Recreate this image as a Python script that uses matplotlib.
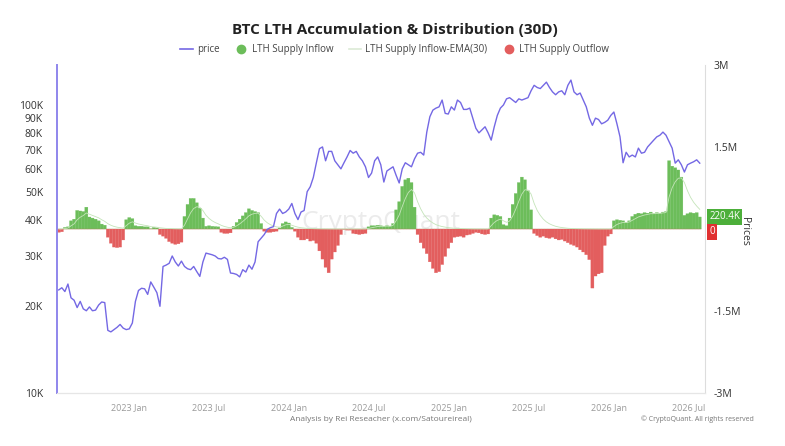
import numpy as np
import pandas as pd
import matplotlib
matplotlib.use("Agg")
import matplotlib.pyplot as plt
from matplotlib.lines import Line2D
from matplotlib.ticker import FixedLocator, NullLocator

plt.rcParams["font.family"] = ["Open Sans", "DejaVu Sans"]

# weekly samples
dates = pd.date_range("2022-07-25", periods=210, freq="7D")

price_k = [
    22.8, 23.2, 22.5, 23.9, 21.4, 21.0, 19.8, 20.8, 19.6, 19.3,
    19.9, 19.3, 19.4, 20.2, 20.7, 20.6, 16.5, 16.3, 16.6, 16.9,
    17.3, 16.8, 16.6, 16.7, 17.5, 20.8, 22.7, 23.1, 23.0, 22.0,
    24.3, 23.3, 22.3, 20.0, 27.5, 27.8, 28.2, 29.9, 28.5, 27.6,
    28.7, 27.5, 27.0, 26.8, 27.5, 26.4, 25.4, 28.5, 30.6, 30.4,
    30.2, 29.9, 29.3, 29.2, 29.6, 29.1, 26.1, 26.0, 25.8, 25.3,
    26.8, 26.3, 27.8, 26.9, 28.5, 33.5, 34.5, 35.5, 37.0, 37.5,
    37.8, 42.0, 43.5, 42.0, 42.5, 43.5, 45.5, 42.0, 40.0, 42.5,
    43.0, 50.0, 52.0, 56.0, 63.0, 70.5, 71.5, 64.0, 69.0, 69.0,
    64.0, 62.0, 60.0, 63.0, 66.0, 69.5, 68.0, 69.0, 66.0, 64.0,
    61.0, 56.0, 58.0, 64.0, 66.0, 62.0, 54.0, 59.0, 60.0, 61.0,
    57.0, 53.6, 60.0, 63.0, 62.0, 61.0, 65.0, 68.0, 68.5, 67.0,
    80.5, 91.0, 96.0, 97.5, 98.5, 104.0, 93.5, 93.0, 98.5, 96.0,
    104.0, 102.0, 96.5, 96.5, 97.5, 90.0, 83.0, 80.0, 82.0, 84.0,
    80.0, 75.5, 84.0, 92.0, 97.5, 100.0, 105.0, 106.0, 104.0, 102.0,
    105.0, 104.0, 105.0, 106.0, 112.0, 117.0, 115.0, 114.0, 117.0, 120.0,
    115.0, 111.0, 108.5, 111.0, 112.0, 108.5, 117.0, 122.0, 111.0, 108.5,
    110.0, 104.0, 98.5, 90.0, 85.0, 90.0, 89.0, 86.0, 87.0, 88.5,
    92.0, 94.5, 86.0, 77.5, 63.0, 68.5, 66.0, 67.0, 66.0, 70.8,
    68.0, 68.5, 71.5, 73.5, 75.5, 77.5, 78.5, 80.5, 78.5, 74.5,
    70.8, 62.8, 64.5, 62.0, 58.5, 62.0, 62.8, 63.5, 64.5, 62.8,
]

# net LTH supply change (K BTC), positive = inflow, negative = outflow
flow_k = [
    -60, -50, 30, 40, 150, 180, 340, 330, 320, 400,
    220, 200, 180, 150, 90, 70, -150, -260, -330, -340,
    -330, -200, 170, 210, 190, 60, 50, 50, 40, 40,
    5, 30, 20, -100, -130, -170, -230, -260, -280, -270,
    -240, 230, 450, 560, 560, 480, 380, 200, 50, 60,
    50, 45, 40, -60, -80, -80, -70, 50, 120, 180,
    240, 300, 370, 340, 320, 300, 100, -40, -60, -60,
    -50, -40, 20, 100, 130, 110, 30, -40, -150, -200,
    -200, -180, -220, -210, -260, -400, -550, -700, -800, -550,
    -420, -300, -100, -10, -20, -20, -80, -90, -100, -90,
    -80, 40, 60, 60, 70, 60, 50, 60, 50, 100,
    350, 500, 780, 900, 930, 850, 400, -100, -250, -350,
    -450, -600, -720, -800, -780, -650, -500, -350, -250, -150,
    -140, -130, -150, -110, -100, -80, -60, -70, -90, -100,
    -90, 200, 260, 250, 230, 80, 60, 200, 450, 650,
    850, 950, 900, 700, 350, -80, -120, -150, -130, -160,
    -170, -150, -180, -200, -190, -220, -250, -280, -300, -330,
    -380, -420, -470, -560, -1080, -860, -820, -800, -300, -130,
    -90, 150, 170, 160, 150, 120, 150, 230, 270, 290,
    280, 300, 290, 310, 280, 300, 290, 310, 320, 1250,
    1150, 1120, 1080, 950, 250, 280, 300, 290, 300, 220.4,
]

ema_k = [
    0, 0, 9, 18, 58, 94, 168, 216, 247, 293,
    271, 250, 229, 205, 170, 140, 98, 69, 48, 34,
    24, 16, 62, 107, 132, 110, 92, 80, 68, 60,
    43, 39, 33, 23, 16, 11, 8, 6, 4, 3,
    2, 70, 184, 297, 376, 407, 399, 339, 252, 194,
    151, 119, 95, 67, 47, 33, 23, 31, 58, 94,
    138, 187, 242, 271, 286, 290, 233, 163, 114, 80,
    56, 39, 33, 53, 76, 86, 69, 49, 34, 24,
    17, 12, 8, 6, 4, 3, 2, 1, 1, 1,
    0, 0, 0, 0, 0, 0, 0, 0, 0, 0,
    0, 12, 26, 36, 46, 50, 50, 53, 52, 66,
    151, 256, 413, 559, 670, 724, 660, 500, 370, 270,
    200, 150, 110, 80, 60, 45, 34, 25, 19, 14,
    10, 8, 6, 4, 3, 2, 2, 1, 1, 1,
    0, 60, 120, 159, 180, 150, 123, 146, 237, 361,
    508, 640, 718, 713, 640, 470, 340, 250, 180, 130,
    95, 70, 50, 37, 27, 20, 14, 10, 7, 5,
    4, 3, 2, 1, 1, 1, 0, 0, 0, 0,
    0, 45, 83, 106, 119, 119, 128, 159, 192, 221,
    239, 257, 267, 280, 280, 286, 287, 294, 302, 586,
    755, 864, 929, 935, 850, 700, 580, 490, 420, 360,
]

price_ticks = [10, 20, 30, 40, 50, 60, 70, 80, 90, 100]
flow_ticks = [-3, -1.5, 1.5, 3]
flow_tick_labels = ["-3M", "-1.5M", "1.5M", "3M"]
month_ticks = ["2023-01-01", "2023-07-01", "2024-01-01", "2024-07-01",
               "2025-01-01", "2025-07-01", "2026-01-01", "2026-07-01"]
month_labels = ["2023 Jan", "2023 Jul", "2024 Jan", "2024 Jul",
                "2025 Jan", "2025 Jul", "2026 Jan", "2026 Jul"]

PURPLE = "#7468e4"
GREEN = "#6cbd5a"
RED = "#e35e5e"
EMA_COLOR = "#c4e4b9"

price = np.array(price_k) * 1e3
flow = np.array(flow_k) * 1e3
ema = np.array(ema_k) * 1e3
inflow = np.where(flow > 0, flow, 0)
outflow = np.where(flow < 0, flow, 0)


def main():
    fig = plt.figure(figsize=(7.85, 4.46), dpi=100)
    ax = fig.add_axes([0.0726, 0.1188, 0.8255, 0.7354])
    ax2 = ax.twinx()

    # flow bars on the right axis, contiguous like a filled histogram
    for vals, col in ((inflow, GREEN), (outflow, RED)):
        bars = ax2.bar(dates, vals, width=7, color=col, edgecolor=col,
                       linewidth=0.2, zorder=2)
        for b in bars:
            b.set_snap(False)
    ax2.plot(dates, ema, color=EMA_COLOR, linewidth=0.6, zorder=3)
    ax2.set_ylim(-3e6, 3e6)
    ax2.yaxis.set_major_locator(FixedLocator([v * 1e6 for v in flow_ticks]))
    ax2.set_yticklabels(flow_tick_labels)
    ax2.tick_params(axis="y", length=0, labelsize=7.5, labelcolor="#333333", pad=6)

    # watermark
    ax2.text(0.5, 0.52, "CryptoQuant", transform=ax2.transAxes, ha="center",
             va="center", fontsize=19, color="#ebebeb", zorder=1)

    # price line on the log left axis, drawn above the bars
    ax.set_zorder(ax2.get_zorder() + 1)
    ax.patch.set_visible(False)
    ax.plot(dates, price, color=PURPLE, linewidth=1.0)
    ax.set_yscale("log")
    ax.set_ylim(10000, 137600)
    ax.yaxis.set_major_locator(FixedLocator([v * 1e3 for v in price_ticks]))
    ax.yaxis.set_minor_locator(NullLocator())
    ax.set_yticklabels([f"{v}K" for v in price_ticks])
    ax.tick_params(axis="y", length=0, labelsize=7.5, labelcolor="#333333", pad=10)

    ax.set_xlim(pd.Timestamp("2022-07-21"), pd.Timestamp("2026-08-08"))
    ax.set_xticks([pd.Timestamp(d) for d in month_ticks])
    ax.set_xticklabels(month_labels)
    ax.tick_params(axis="x", length=0, labelsize=6.5, labelcolor="#9a9a9a", pad=7)

    for a in (ax, ax2):
        a.spines["top"].set_visible(False)
        a.spines["bottom"].set_color("#e6e6e6")
    ax.spines["left"].set_color("#8f86ec")
    ax.spines["left"].set_linewidth(1.4)
    ax.spines["right"].set_visible(False)
    ax2.spines["left"].set_visible(False)
    ax2.spines["right"].set_color("#dddddd")

    # last value tags on the right axis
    ytr = ax2.get_yaxis_transform()
    ax2.annotate("220.4K", xy=(1.0, inflow[-1]), xycoords=ytr, xytext=(3, 0),
                 textcoords="offset points", ha="left", va="center",
                 fontsize=7, color="white",
                 bbox=dict(boxstyle="square,pad=0.25", fc="#4caf3a", ec="none"))
    ax2.annotate("0", xy=(1.0, outflow[-1]), xycoords=ytr, xytext=(3, -2),
                 textcoords="offset points", ha="left", va="center",
                 fontsize=7, color="white",
                 bbox=dict(boxstyle="square,pad=0.25", fc="#e03030", ec="none"))
    fig.text(0.949, 0.482, "Prices", rotation=270, ha="center", va="center",
             fontsize=7.5, color="#333333")

    fig.text(0.503, 0.933, "BTC LTH Accumulation & Distribution (30D)",
             ha="center", va="center", fontsize=11, fontweight="bold",
             color="#222222")

    handles = [
        Line2D([], [], color=PURPLE, linewidth=1.2),
        Line2D([], [], color=GREEN, marker="o", linestyle="none", markersize=6),
        Line2D([], [], color="#dcead6", linewidth=1.2),
        Line2D([], [], color=RED, marker="o", linestyle="none", markersize=6),
    ]
    labels = ["price", "LTH Supply Inflow", "LTH Supply Inflow-EMA(30)",
              "LTH Supply Outflow"]
    fig.legend(handles, labels, loc="center", bbox_to_anchor=(0.503, 0.888),
               ncol=4, frameon=False, fontsize=7, labelcolor="#444444",
               handlelength=1.3, handletextpad=0.4, columnspacing=1.6)

    fig.text(0.485, 0.06, "Analysis by Rei Reseacher (x.com/Satoureireal)",
             ha="center", va="center", fontsize=6, color="#777777")
    fig.text(0.96, 0.06, "© CryptoQuant. All rights reserved",
             ha="right", va="center", fontsize=5, color="#777777")

    fig.savefig("out.png", dpi=100)


if __name__ == "__main__":
    main()
